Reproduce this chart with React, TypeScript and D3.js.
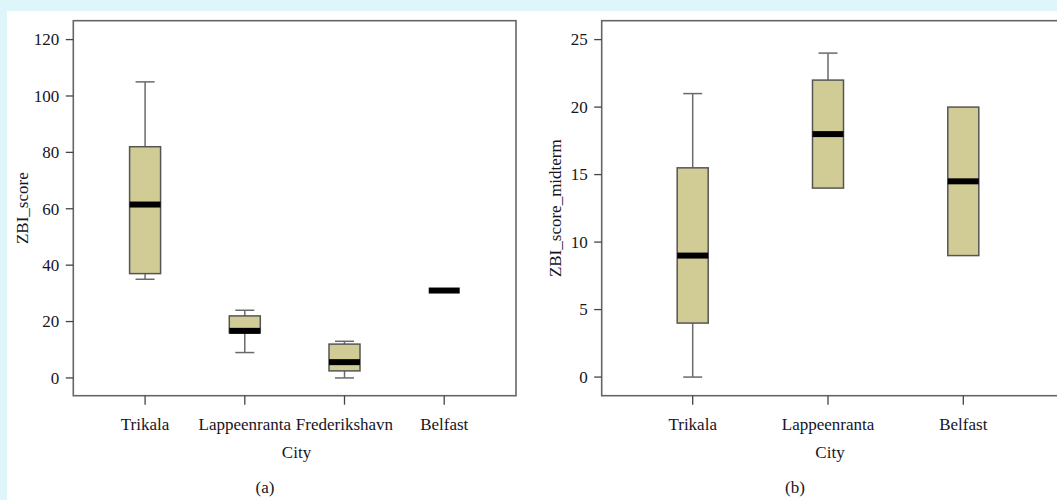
import React from "react";
import * as d3 from "d3";

// Panel (a): ZBI score by city
const citiesA = ["Trikala", "Lappeenranta", "Frederikshavn", "Belfast"];
const zbiMin = [35, 9, 0, 31];
const zbiQ1 = [37, 16, 2.5, 31];
const zbiMedian = [61.5, 16.7, 5.6, 31];
const zbiQ3 = [82, 22, 12, 31];
const zbiMax = [105, 24, 13, 31];
const ticksA = [0, 20, 40, 60, 80, 100, 120];

// Panel (b): ZBI midterm score by city
const citiesB = ["Trikala", "Lappeenranta", "Belfast"];
const midMin = [0, 14, 9];
const midQ1 = [4, 14, 9];
const midMedian = [9, 18, 14.5];
const midQ3 = [15.5, 22, 20];
const midMax = [21, 24, 20];
const ticksB = [0, 5, 10, 15, 20, 25];

const FONT = "'Liberation Serif', 'Times New Roman', serif";
const FILL = "#d1cc96";
const TEXT = "#15151f";

type Stats = { name: string; min: number; q1: number; med: number; q3: number; max: number };

function BoxPanel(props: {
  stats: Stats[];
  x: d3.ScalePoint<string>;
  y: d3.ScaleLinear<number, number>;
  ticks: number[];
  frame: { left: number; right: number; top: number; bottom: number };
  yLabel: string;
  yLabelX: number;
  xLabelX: number;
  captionX: number;
  caption: string;
}) {
  const { stats, x, y, ticks, frame, yLabel, yLabelX, xLabelX, captionX, caption } = props;
  const boxW = 31;
  const capW = 19;
  const midY = (frame.top + frame.bottom) / 2;
  return (
    <g>
      {/* box plots */}
      {stats.map((s) => {
        const cx = x(s.name)!;
        return (
          <g key={s.name}>
            {s.max > s.q3 && (
              <g stroke="#6a6a6a" strokeWidth={1.5}>
                <line x1={cx} x2={cx} y1={y(s.max)} y2={y(s.q3)} />
                <line x1={cx - capW / 2} x2={cx + capW / 2} y1={y(s.max)} y2={y(s.max)} />
              </g>
            )}
            {s.min < s.q1 && (
              <g stroke="#6a6a6a" strokeWidth={1.5}>
                <line x1={cx} x2={cx} y1={y(s.q1)} y2={y(s.min)} />
                <line x1={cx - capW / 2} x2={cx + capW / 2} y1={y(s.min)} y2={y(s.min)} />
              </g>
            )}
            {s.q3 > s.q1 && (
              <rect
                x={cx - boxW / 2}
                y={y(s.q3)}
                width={boxW}
                height={y(s.q1) - y(s.q3)}
                fill={FILL}
                stroke="#555"
                strokeWidth={1.5}
              />
            )}
            <line
              x1={cx - boxW / 2}
              x2={cx + boxW / 2}
              y1={y(s.med)}
              y2={y(s.med)}
              stroke="#000"
              strokeWidth={6}
            />
          </g>
        );
      })}
      {/* frame */}
      <rect
        x={frame.left}
        y={frame.top}
        width={frame.right - frame.left}
        height={frame.bottom - frame.top}
        fill="none"
        stroke="#666"
        strokeWidth={1.6}
      />
      {/* y axis */}
      {ticks.map((t) => (
        <g key={t}>
          <line x1={frame.left - 7.5} x2={frame.left} y1={y(t)} y2={y(t)} stroke="#444" strokeWidth={1.3} />
          <text
            x={frame.left - 14}
            y={y(t)}
            dy="0.34em"
            textAnchor="end"
            fontSize={17}
            fill={TEXT}
          >
            {t}
          </text>
        </g>
      ))}
      {/* x axis */}
      {x.domain().map((c) => (
        <g key={c}>
          <line x1={x(c)!} x2={x(c)!} y1={frame.bottom} y2={frame.bottom + 9} stroke="#444" strokeWidth={1.3} />
          <text x={x(c)!} y={430} textAnchor="middle" fontSize={17} fill={TEXT}>
            {c}
          </text>
        </g>
      ))}
      <text x={xLabelX} y={458} textAnchor="middle" fontSize={17} fill={TEXT}>
        City
      </text>
      <text x={captionX} y={493} textAnchor="middle" fontSize={17} fill={TEXT}>
        {caption}
      </text>
      <text
        transform={`translate(${yLabelX},${midY}) rotate(-90)`}
        dy="0.34em"
        textAnchor="middle"
        fontSize={17}
        fill={TEXT}
      >
        {yLabel}
      </text>
    </g>
  );
}

export default function App() {
  const width = 1057;
  const height = 500;
  const top = 20.7;
  const bottom = 395.7;

  const frameA = { left: 73.3, right: 516, top, bottom };
  const xA = d3.scalePoint<string>().domain(citiesA).range([frameA.left, frameA.right]).padding(0.72);
  const yA = d3.scaleLinear().domain([-6.3, 126.7]).range([bottom, top]);

  const frameB = { left: 601.7, right: 1080, top, bottom };
  const xB = d3.scalePoint<string>().domain(citiesB).range([692.7, 963.3]).padding(0);
  const yB = d3.scaleLinear().domain([-1.38, 26.4]).range([bottom, top]);

  const statsA: Stats[] = citiesA.map((name, i) => ({
    name,
    min: zbiMin[i],
    q1: zbiQ1[i],
    med: zbiMedian[i],
    q3: zbiQ3[i],
    max: zbiMax[i],
  }));
  const statsB: Stats[] = citiesB.map((name, i) => ({
    name,
    min: midMin[i],
    q1: midQ1[i],
    med: midMedian[i],
    q3: midQ3[i],
    max: midMax[i],
  }));

  return (
    <svg
      width={width}
      height={height}
      style={{ position: "absolute", left: 0, top: 0, display: "block" }}
      fontFamily={FONT}
    >
      <rect x={0} y={0} width={width} height={height} fill="#def5fa" />
      <rect x={7} y={11} width={width - 7} height={height - 11} fill="#fff" />
      <BoxPanel
        stats={statsA}
        x={xA}
        y={yA}
        ticks={ticksA}
        frame={frameA}
        yLabel="ZBI_score"
        yLabelX={22}
        xLabelX={296.5}
        captionX={265}
        caption="(a)"
      />
      <BoxPanel
        stats={statsB}
        x={xB}
        y={yB}
        ticks={ticksB}
        frame={frameB}
        yLabel="ZBI_score_midterm"
        yLabelX={555}
        xLabelX={830}
        captionX={795}
        caption="(b)"
      />
    </svg>
  );
}
